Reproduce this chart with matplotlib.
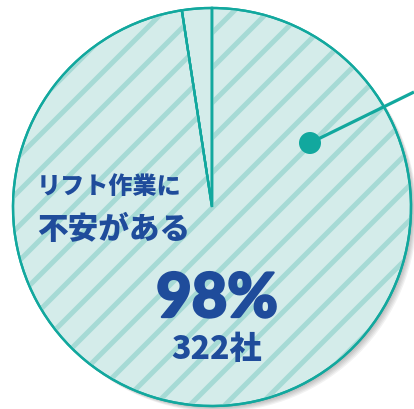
import matplotlib
matplotlib.use('Agg')
import matplotlib.pyplot as plt
import matplotlib.patheffects as pe
from matplotlib.patches import Circle

# data
labels = ['その他', 'リフト作業に不安がある']
companies = [8, 322]
main_pct = '98%'
main_count = '322社'

W, H, DPI = 414, 409, 105

plt.rcParams['font.family'] = ['Noto Sans CJK JP', 'DejaVu Sans']
plt.rcParams['hatch.linewidth'] = 3.4

teal = '#12a89e'
light = '#d4ecea'
stripe = '#a6dad5'
navy = '#1f4c9b'

fig = plt.figure(figsize=(W / DPI, H / DPI), dpi=DPI)
ax = fig.add_axes([0, 0, 1, 1])
ax.set_xlim(0, W)
ax.set_ylim(0, H)
ax.set_aspect('equal')
ax.axis('off')

cx, cy, r = 212, 202, 199

# soft shadow at the lower right
for i in range(6):
    ax.add_patch(Circle((cx + 1 + i, cy - 1 - i), r, color='black', alpha=0.05, lw=0, zorder=0))

# base pie with outline
wedges, _ = ax.pie(companies, startangle=90, counterclock=True, center=(cx, cy), radius=r,
                   colors=[light, light],
                   wedgeprops=dict(edgecolor=teal, linewidth=1.6))
for w in wedges:
    w.set_zorder(1)

# stripes on the big slice
hw, _ = ax.pie(companies, startangle=90, counterclock=True, center=(cx, cy), radius=r - 1,
               colors=['none', 'none'], wedgeprops=dict(linewidth=0))
hw[1].set_hatch('/')
hw[1].set_edgecolor(stripe)
hw[1].set_zorder(2)
hw[0].set_visible(False)

# redraw outlines over the stripes
ol, _ = ax.pie(companies, startangle=90, counterclock=True, center=(cx, cy), radius=r,
               colors=['none', 'none'], wedgeprops=dict(edgecolor=teal, linewidth=1.6, fill=False))
for w in ol:
    w.set_zorder(3)

ax.set_xlim(0, W)
ax.set_ylim(0, H)

# leader line and dot
ax.plot([310, 414], [266, 317], color=teal, lw=2.2, zorder=4, solid_capstyle='butt')
ax.add_patch(Circle((310, 266), 11, color=teal, lw=0, zorder=5))

ax.text(37, 222, 'リフト作業に', fontsize=16.5, fontweight='black', color=navy,
        ha='left', va='center', zorder=6)
ax.text(37, 179, '不安がある', fontsize=21, fontweight='black', color=navy,
        ha='left', va='center', zorder=6)
ax.text(217, 110, main_pct, fontsize=42, fontweight='black', color=navy,
        family=['Lato', 'DejaVu Sans'], ha='center', va='center', zorder=6,
        path_effects=[pe.withStroke(linewidth=1.6, foreground=navy)])
ax.text(217, 60, main_count, fontsize=22, fontweight='black', color=navy,
        ha='center', va='center', zorder=6)

fig.savefig('out.png', dpi=DPI)
